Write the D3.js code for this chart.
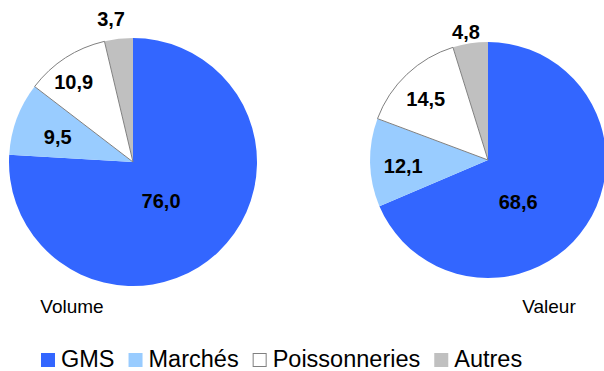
<!DOCTYPE html>
<html>
<head>
<meta charset="utf-8">
<script src="https://cdn.jsdelivr.net/npm/d3@7"></script>
<style>
  html, body { margin: 0; padding: 0; background: #fff; }
  svg { display: block; }
  text { font-family: Arial, "Liberation Sans", sans-serif; }
</style>
</head>
<body>
<svg id="chart" width="604" height="371"></svg>
<script>
// ---- data ----
const categories = ["GMS", "Marchés", "Poissonneries", "Autres"];
const volumeValues = [76.0, 9.5, 10.9, 3.7];
const valeurValues = [68.6, 12.1, 14.5, 4.8];
const pieTitles = ["Volume", "Valeur"];

// ---- styles / layout ----
const colors = ["#3366FF", "#99CCFF", "#FFFFFF", "#C0C0C0"];
const strokes = ["none", "none", "#808080", "none"];
const pies = [
  { values: volumeValues, title: pieTitles[0], cx: 133, cy: 162, r: 124, titleX: 72, titleY: 313,
    labelAngles: [144.5, 288.4, 323.3, 351.3], labelRadii: [0.39, 0.64, 0.80, 1.17] },
  { values: valeurValues, title: pieTitles[1], cx: 488, cy: 160, r: 118, titleX: 549, titleY: 313,
    labelAngles: [144.5, 265.9, 314.5, 350.2], labelRadii: [0.44, 0.72, 0.74, 1.10] }
];

const svg = d3.select("#chart");
const locale = d3.formatLocale({ decimal: ",", thousands: " ", grouping: [3], currency: ["", "€"] });
const fmt = locale.format(".1f");

const pieGen = d3.pie().sort(null).value(d => d);
const color = d3.scaleOrdinal().domain(categories).range(colors);
const strokeScale = d3.scaleOrdinal().domain(categories).range(strokes);

pies.forEach(p => {
  const g = svg.append("g").attr("transform", `translate(${p.cx},${p.cy})`);
  const arc = d3.arc().innerRadius(0).outerRadius(p.r);
  const arcs = pieGen(p.values);
  // draw non-stroked first, stroked on top
  const order = arcs.map((a, i) => i).sort((a, b) => (strokes[a] === "none" ? 0 : 1) - (strokes[b] === "none" ? 0 : 1));
  g.selectAll("path")
    .data(order.map(i => ({ a: arcs[i], i })))
    .join("path")
    .attr("d", d => arc(d.a))
    .attr("fill", d => color(categories[d.i]))
    .attr("stroke", d => strokeScale(categories[d.i]))
    .attr("stroke-width", 1);

  g.selectAll("text.lbl")
    .data(arcs)
    .join("text")
    .attr("class", "lbl")
    .attr("x", (d, i) => Math.sin(p.labelAngles[i] * Math.PI / 180) * p.r * p.labelRadii[i])
    .attr("y", (d, i) => -Math.cos(p.labelAngles[i] * Math.PI / 180) * p.r * p.labelRadii[i])
    .attr("text-anchor", "middle")
    .attr("dominant-baseline", "central")
    .attr("font-size", "20px")
    .attr("font-weight", "bold")
    .attr("fill", "#000")
    .text(d => fmt(d.data));

  svg.append("text")
    .attr("x", p.titleX)
    .attr("y", p.titleY)
    .attr("text-anchor", "middle")
    .attr("font-size", "19px")
    .attr("fill", "#000")
    .text(p.title);
});

// ---- legend ----
const legend = svg.append("g");
let lx = 41;
categories.forEach((c, i) => {
  legend.append("rect")
    .attr("x", lx + (strokes[i] === "none" ? 0 : 0.5))
    .attr("y", 353 + (strokes[i] === "none" ? 0 : 0.5))
    .attr("width", strokes[i] === "none" ? 14 : 13)
    .attr("height", strokes[i] === "none" ? 14 : 13)
    .attr("fill", colors[i])
    .attr("stroke", strokes[i])
    .attr("stroke-width", 1);
  const t = legend.append("text")
    .attr("x", lx + 20)
    .attr("y", 367)
    .attr("font-size", "23.5px")
    .attr("fill", "#000")
    .text(c);
  lx = lx + 20 + t.node().getComputedTextLength() + 14;
});
</script>
</body>
</html>
